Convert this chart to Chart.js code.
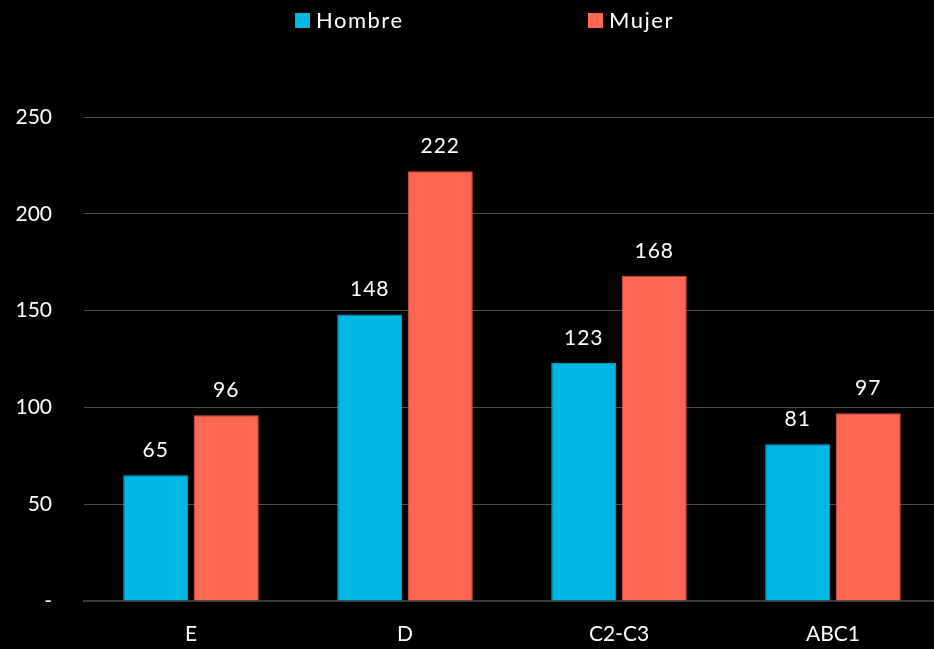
<!DOCTYPE html>
<html>
<head>
<meta charset="utf-8">
<style>
  html, body { margin: 0; padding: 0; background: #000; overflow: hidden; }
  #wrap { position: relative; width: 940px; height: 649px; }
</style>
<script src="https://cdn.jsdelivr.net/npm/chart.js@4.4.1/dist/chart.umd.min.js"></script>
</head>
<body>
<div id="wrap"><canvas id="chart"></canvas></div>
<script>
// Categories and series
const categories = ['E', 'D', 'C2-C3', 'ABC1'];
const hombre = [65, 148, 123, 81];
const mujer = [96, 222, 168, 97];
const yTicks = [0, 50, 100, 150, 200, 250];

const FONT = 'Lato, "Open Sans", sans-serif';
const TEXT = '#ffffff';
const CYAN = '#00B7E6';
const SALMON = '#FF6754';

// Value labels above every bar
const valueLabels = {
  id: 'valueLabels',
  afterDatasetsDraw(chart) {
    const ctx = chart.ctx;
    ctx.save();
    ctx.font = '21px ' + FONT;
    ctx.letterSpacing = '1px';
    ctx.fillStyle = TEXT;
    ctx.textAlign = 'center';
    ctx.textBaseline = 'alphabetic';
    chart.data.datasets.forEach((ds, i) => {
      chart.getDatasetMeta(i).data.forEach((bar, j) => {
        ctx.fillText(String(ds.data[j]), bar.x, bar.y - 18);
      });
    });
    ctx.restore();
  }
};

// Wide-spaced legend along the top
const topLegend = {
  id: 'topLegend',
  afterDraw(chart) {
    const ctx = chart.ctx;
    const starts = [295, 588];
    ctx.save();
    ctx.font = '22px ' + FONT;
    ctx.letterSpacing = '1.5px';
    ctx.textBaseline = 'middle';
    ctx.textAlign = 'left';
    chart.data.datasets.forEach((ds, i) => {
      const x = starts[i];
      ctx.fillStyle = ds.backgroundColor;
      ctx.fillRect(x, 13, 15, 15);
      ctx.fillStyle = TEXT;
      ctx.fillText(ds.label, x + 21, 21);
    });
    ctx.restore();
  }
};

new Chart(document.getElementById('chart'), {
  type: 'bar',
  data: {
    labels: categories,
    datasets: [
      { label: 'Hombre', data: hombre, backgroundColor: CYAN, borderColor: '#00B0DE', borderWidth: 1 },
      { label: 'Mujer', data: mujer, backgroundColor: SALMON, borderColor: '#DE5542', borderWidth: 1 }
    ]
  },
  options: {
    responsive: true,
    maintainAspectRatio: false,
    animation: false,
    categoryPercentage: 0.659,
    barPercentage: 0.922,
    layout: { padding: { top: 117, right: 0, bottom: 0, left: 0 } },
    plugins: {
      legend: { display: false },
      tooltip: { enabled: false }
    },
    scales: {
      x: {
        grid: { display: false, drawTicks: false },
        border: { display: true, color: '#3a3a3a', width: 2 },
        ticks: { color: TEXT, font: { family: FONT, size: 21 }, padding: 21 },
        afterFit(scale) { scale.height = 48; }
      },
      y: {
        min: 0,
        max: 250,
        afterBuildTicks(scale) { scale.ticks = yTicks.map(v => ({ value: v })); },
        grid: { color: '#4d4d4d', lineWidth: 1, drawTicks: false },
        border: { display: false },
        ticks: {
          color: TEXT,
          font: { family: FONT, size: 21 },
          padding: 32,
          callback: v => (v === 0 ? '-' : String(v))
        },
        afterFit(scale) { scale.width = 84; }
      }
    }
  },
  plugins: [valueLabels, topLegend]
});
</script>
</body>
</html>
